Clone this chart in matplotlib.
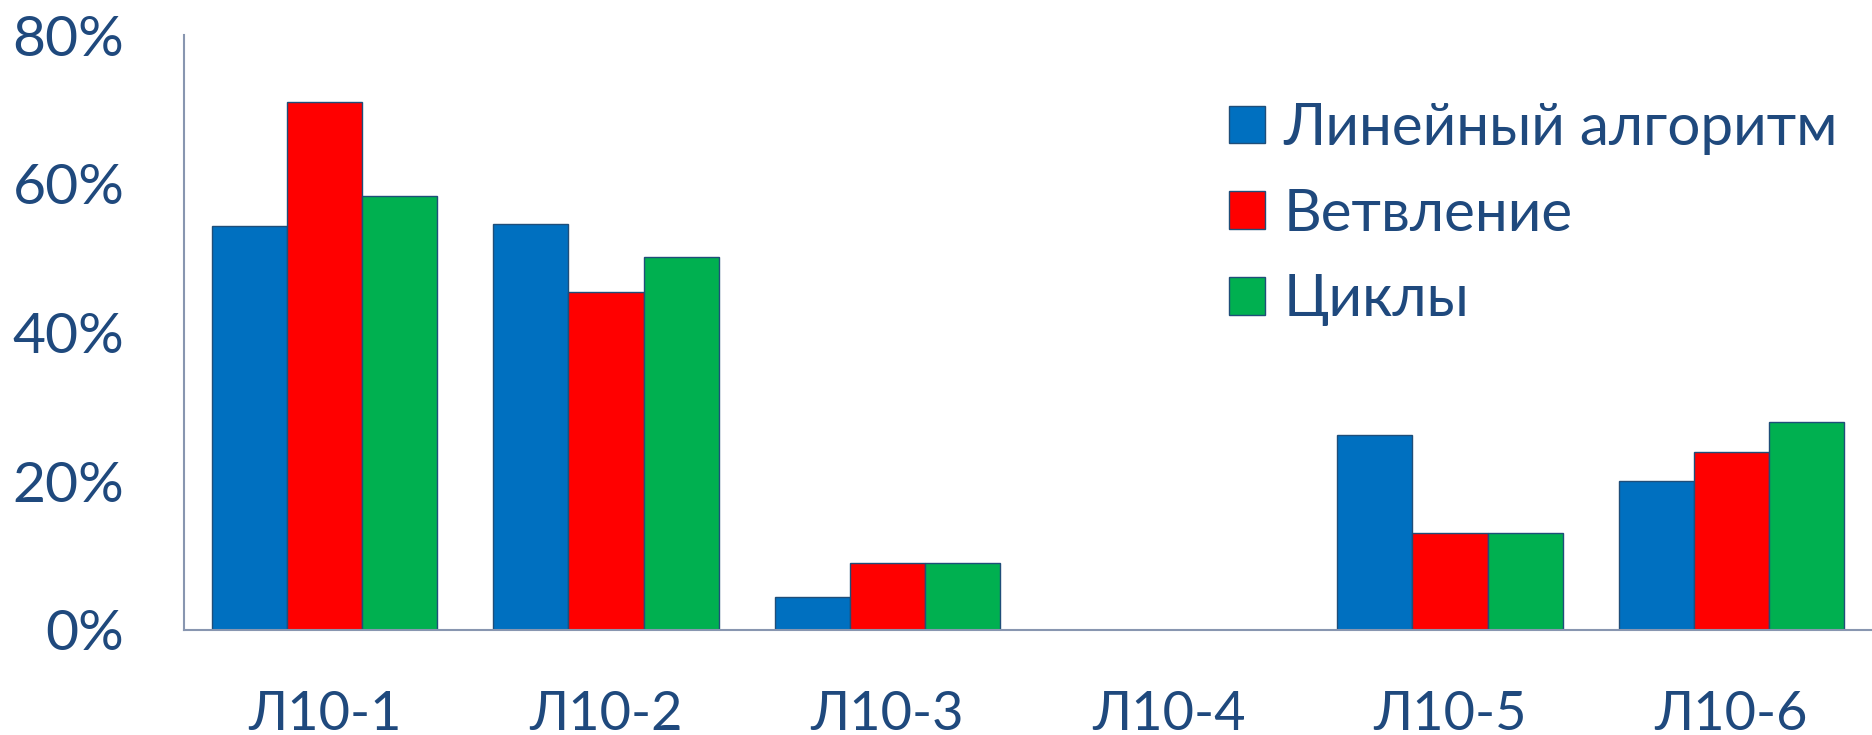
import matplotlib
matplotlib.use("Agg")
import matplotlib.pyplot as plt
import numpy as np
from matplotlib.ticker import PercentFormatter

plt.rcParams['font.family'] = ['Lato', 'DejaVu Sans']

categories = ["Л10-1", "Л10-2", "Л10-3", "Л10-4", "Л10-5", "Л10-6"]
series_names = ["Линейный алгоритм", "Ветвление", "Циклы"]
linear = [54.3, 54.6, 4.4, 0.0, 26.2, 20.1]
branching = [71.0, 45.5, 9.0, 0.0, 13.0, 24.0]
loops = [58.4, 50.1, 9.0, 0.0, 13.0, 28.0]
y_ticks = [0, 20, 40, 60, 80]

colors = ["#0070C0", "#FF0000", "#00B050"]
text_color = "#1F497D"
edge_color = "#1F4E79"
axis_color = "#8896B0"

fig = plt.figure(figsize=(18.72, 7.35), dpi=100)
ax = fig.add_axes([184 / 1872, 1 - 630 / 735, 1 - 184 / 1872, (630 - 35) / 735])

x = np.arange(len(categories))
width = 0.8 / 3
for i, (vals, name, col) in enumerate(zip([linear, branching, loops], series_names, colors)):
    ax.bar(x + (i - 1) * width, vals, width=width, color=col, edgecolor=edge_color,
           linewidth=1.0, label=name, zorder=2)

ax.set_xlim(-0.5, len(categories) - 0.5)
ax.set_ylim(0, 80)
ax.set_yticks(y_ticks)
ax.yaxis.set_major_formatter(PercentFormatter(decimals=0))
ax.set_xticks(x)
ax.set_xticklabels(categories)

for s in ["top", "right"]:
    ax.spines[s].set_visible(False)
for s in ["left", "bottom"]:
    ax.spines[s].set_color(axis_color)
    ax.spines[s].set_linewidth(1.5)

ax.tick_params(axis="y", length=0, pad=43, labelsize=41, labelcolor=text_color)
ax.tick_params(axis="x", length=0, pad=43, labelsize=39, labelcolor=text_color)

leg = ax.legend(loc="upper left", bbox_to_anchor=(1229 / 1872, 1 - 102 / 735),
                bbox_transform=fig.transFigure, frameon=False, fontsize=42,
                handlelength=0.62, handleheight=0.62, handletextpad=0.31,
                labelspacing=0.56, borderpad=0, borderaxespad=0)
for t in leg.get_texts():
    t.set_color(text_color)

fig.savefig("out.png", dpi=100, facecolor="white")
